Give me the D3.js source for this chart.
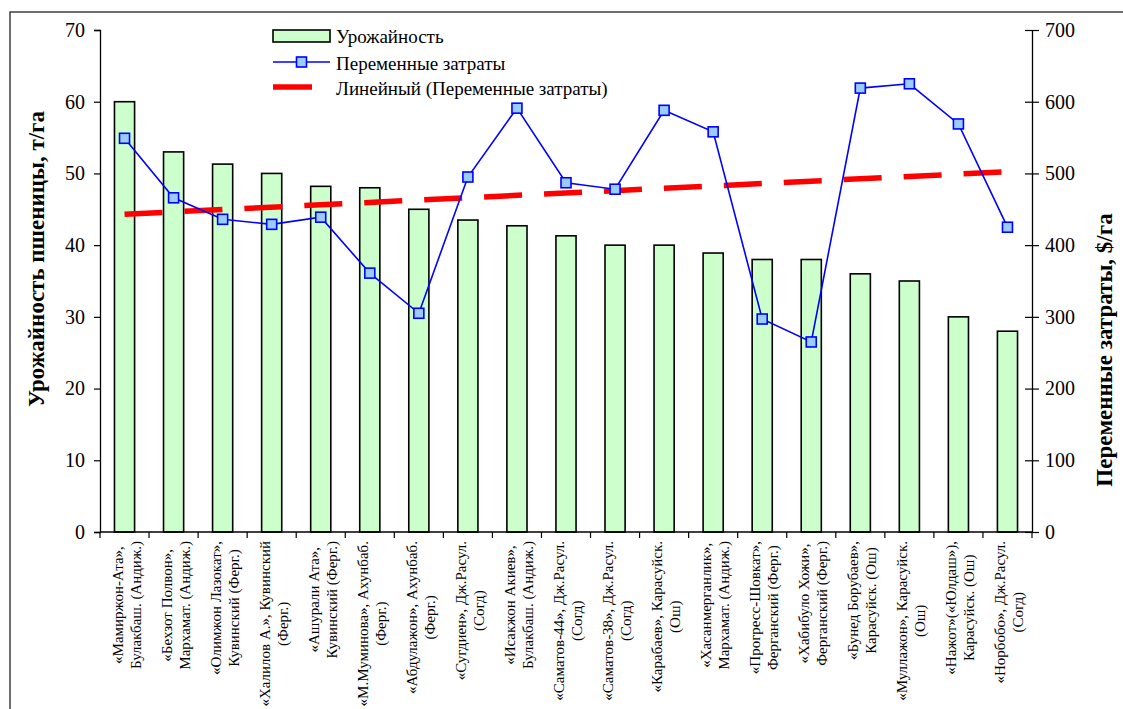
<!DOCTYPE html>
<html><head><meta charset="utf-8">
<script src="https://cdn.jsdelivr.net/npm/d3@7"></script>
<style>
html,body{margin:0;padding:0;background:#fff;overflow:hidden;}
svg{display:block;font-family:"Liberation Serif","Times New Roman",serif;}
</style></head>
<body>
<svg id="chart" width="1123" height="709"></svg>
<script>
const categories = [
  ["«Мамиржон-Ата»,","Булакбаш. (Андиж.)"],
  ["«Бехзот Полвон»,","Мархамат. (Андиж.)"],
  ["«Олимжон Лазокат»,","Кувинский (Ферг.)"],
  ["«Халилов А.», Кувинский","(Ферг.)"],
  ["«Ашурали Ата»,","Кувинский (Ферг.)"],
  ["«М.Муминова», Ахунбаб.","(Ферг.)"],
  ["«Абдулажон», Ахунбаб.","(Ферг.)"],
  ["«Сугдиен», Дж.Расул.","(Согд)"],
  ["«Исакжон Акиев»,","Булакбаш. (Андиж.)"],
  ["«Саматов-44», Дж.Расул.","(Согд)"],
  ["«Саматов-38», Дж.Расул.","(Согд)"],
  ["«Карабаев», Карасуйск.","(Ош)"],
  ["«Хасанмерганлик»,","Мархамат. (Андиж.)"],
  ["«Прогресс-Шовкат»,","Ферганский (Ферг.)"],
  ["«Хабибуло Хожи»,","Ферганский (Ферг.)"],
  ["«Бунед Борубаев»,","Карасуйск. (Ош)"],
  ["«Муллажон», Карасуйск.","(Ош)"],
  ["«Нажот»(«Юлдаш»),","Карасуйск. (Ош)"],
  ["«Норбобо», Дж.Расул.","(Согд)"]
];
const yieldValues = [60, 53, 51.3, 50, 48.2, 48, 45, 43.5, 42.7, 41.3, 40, 40, 38.9, 38, 38, 36, 35, 30, 28];
const costValues = [549, 466, 436, 429, 439, 361, 305, 495, 591, 487, 478, 588, 558, 297, 265, 619, 625, 569, 425];
const leftTicks = [0, 10, 20, 30, 40, 50, 60, 70];
const rightTicks = [0, 100, 200, 300, 400, 500, 600, 700];
const legendLabels = ["Урожайность", "Переменные затраты", "Линейный (Переменные затраты)"];
const leftTitle = "Урожайность пшеницы, т/га";
const rightTitle = "Переменные затраты, $/га";

const svg = d3.select("#chart");
const W = 1123, H = 709;
const m = {left: 100, right: 91, top: 30, bottom: 177};
const x0 = m.left, x1 = W - m.right, y0 = H - m.bottom, y1 = m.top;
const serif = "Liberation Serif";

// outer frame
svg.append("rect").attr("x", 10).attr("y", 12).attr("width", 1140).attr("height", 720)
  .attr("fill", "none").attr("stroke", "#222").attr("stroke-width", 1.3);

const x = d3.scaleBand().domain(d3.range(categories.length)).range([x0, x1])
  .paddingInner(0.59).paddingOuter(0.295);
const yL = d3.scaleLinear().domain([0, 70]).range([y0, y1]);
const yR = d3.scaleLinear().domain([0, 700]).range([y0, y1]);
const cx = i => x(i) + x.bandwidth() / 2;

// bars
svg.append("g").selectAll("rect").data(yieldValues).join("rect")
  .attr("x", (d, i) => x(i)).attr("y", d => yL(d))
  .attr("width", x.bandwidth()).attr("height", d => yL(0) - yL(d))
  .attr("fill", "#ccffcc").attr("stroke", "#000").attr("stroke-width", 1.6);

// trend line (linear regression on costs)
const n = costValues.length;
const xs = d3.range(1, n + 1);
const mx = d3.mean(xs), my = d3.mean(costValues);
const slope = d3.sum(xs, (v, i) => (v - mx) * (costValues[i] - my)) / d3.sum(xs, v => (v - mx) * (v - mx));
const intercept = my - slope * mx;
svg.append("line")
  .attr("x1", cx(0)).attr("x2", cx(n - 1))
  .attr("y1", yR(intercept + slope * 1)).attr("y2", yR(intercept + slope * n))
  .attr("stroke", "#ff0000").attr("stroke-width", 5.5).attr("stroke-dasharray", "38,22");

// cost line
svg.append("path").datum(costValues)
  .attr("d", d3.line().x((d, i) => cx(i)).y(d => yR(d)))
  .attr("fill", "none").attr("stroke", "#0000ff").attr("stroke-width", 1.6);
svg.append("g").selectAll("rect").data(costValues).join("rect")
  .attr("x", (d, i) => cx(i) - 5).attr("y", d => yR(d) - 5)
  .attr("width", 10).attr("height", 10)
  .attr("fill", "#99ccff").attr("stroke", "#0000ff").attr("stroke-width", 1.6);

// left axis
const gL = svg.append("g").attr("transform", `translate(${x0},0)`)
  .call(d3.axisLeft(yL).tickValues(leftTicks).tickSize(6).tickPadding(9));
gL.attr("font-family", serif);
gL.select(".domain").attr("stroke", "#000").attr("stroke-width", 1.3);
gL.selectAll(".tick line").attr("stroke", "#000").attr("stroke-width", 1.2);
gL.selectAll("text").attr("font-family", serif).attr("font-size", 20).attr("fill", "#000");

// right axis
const gR = svg.append("g").attr("transform", `translate(${x1},0)`)
  .call(d3.axisRight(yR).tickValues(rightTicks).tickSizeInner(7).tickSizeOuter(0).tickPadding(6));
gR.attr("font-family", serif);
gR.selectAll(".tick line").attr("x1", -7).attr("stroke", "#000").attr("stroke-width", 1.2);
gR.select(".domain").attr("stroke", "#000").attr("stroke-width", 1.3);
gR.selectAll("text").attr("font-family", serif).attr("font-size", 20).attr("fill", "#000");

// bottom axis
svg.append("line").attr("x1", x0).attr("x2", x1).attr("y1", y0).attr("y2", y0)
  .attr("stroke", "#000").attr("stroke-width", 1.3);
const bounds = d3.range(categories.length + 1).map(i => x0 + i * x.step());
svg.append("g").selectAll("line").data(bounds).join("line")
  .attr("x1", d => d).attr("x2", d => d).attr("y1", y0).attr("y2", y0 + 6)
  .attr("stroke", "#000").attr("stroke-width", 1.2);

// category labels
const labTop = 541, lineGap = 18, fs = 15;
categories.forEach((lines, i) => {
  const g = svg.append("g");
  const texts = lines.map((t, k) => g.append("text").text(t)
    .attr("font-family", serif)
    .attr("font-size", fs).attr("fill", "#000").attr("text-anchor", "middle")
    .attr("dominant-baseline", "central"));
  const maxLen = d3.max(texts, t => t.node().getComputedTextLength());
  const cy = labTop + maxLen / 2;
  const baseX = cx(i) + 2 - (lines.length - 1) * lineGap / 2;
  texts.forEach((t, k) => {
    const tx = baseX + k * lineGap;
    t.attr("transform", `translate(${tx},${cy}) rotate(-90)`);
  });
});

// axis titles
svg.append("text").text(leftTitle)
  .attr("transform", "translate(36,259) rotate(-90)")
  .attr("text-anchor", "middle").attr("dominant-baseline", "central")
  .attr("font-family", serif)
  .attr("font-size", 23).attr("font-weight", "bold").attr("fill", "#000");
svg.append("text").text(rightTitle)
  .attr("transform", "translate(1104,350) rotate(-90)")
  .attr("text-anchor", "middle").attr("dominant-baseline", "central")
  .attr("font-family", serif)
  .attr("font-size", 23).attr("font-weight", "bold").attr("fill", "#000");

// legend
const lg = svg.append("g");
lg.append("rect").attr("x", 273).attr("y", 30).attr("width", 57).attr("height", 12)
  .attr("fill", "#ccffcc").attr("stroke", "#000").attr("stroke-width", 1.6);
lg.append("line").attr("x1", 273).attr("x2", 330).attr("y1", 62).attr("y2", 62)
  .attr("stroke", "#0000ff").attr("stroke-width", 1.6);
lg.append("rect").attr("x", 296.5).attr("y", 57).attr("width", 10).attr("height", 10)
  .attr("fill", "#99ccff").attr("stroke", "#0000ff").attr("stroke-width", 1.6);
lg.append("line").attr("x1", 273).attr("x2", 312).attr("y1", 87).attr("y2", 87)
  .attr("stroke", "#ff0000").attr("stroke-width", 5.5);
[36, 63, 88].forEach((yy, k) => {
  lg.append("text").text(legendLabels[k]).attr("x", 336).attr("y", yy)
    .attr("font-family", serif)
    .attr("dominant-baseline", "central").attr("font-size", 19).attr("fill", "#000");
});
</script>
</body></html>
